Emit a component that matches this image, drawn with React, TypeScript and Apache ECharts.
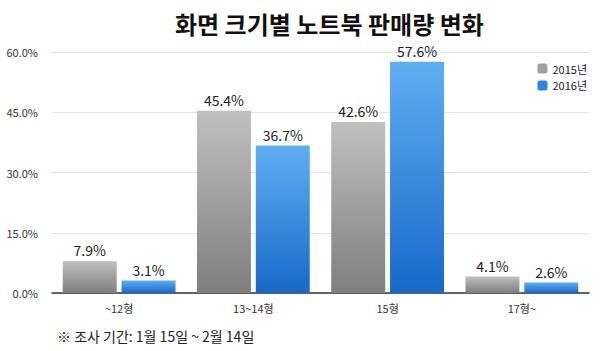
import React, { useEffect, useRef } from "react";
import * as echarts from "echarts";

const categories = ["~12형", "13~14형", "15형", "17형~"];
const series2015 = [7.9, 45.4, 42.6, 4.1];
const series2016 = [3.1, 36.7, 57.6, 2.6];
const seriesNames = ["2015년", "2016년"];
const yTicks = [0, 15, 30, 45, 60];

const FONT = "'Noto Sans CJK KR', 'Noto Sans', sans-serif";

export default function App() {
  const ref = useRef<HTMLDivElement>(null);
  useEffect(() => {
    if (!ref.current) return;
    const chart = echarts.init(ref.current, null, { renderer: "svg" });
    const grayGrad = new echarts.graphic.LinearGradient(0, 0, 0, 1, [
      { offset: 0, color: "#c0c0c0" },
      { offset: 1, color: "#7e7e7e" },
    ]);
    const blueGrad = new echarts.graphic.LinearGradient(0, 0, 0, 1, [
      { offset: 0, color: "#5eaef2" },
      { offset: 1, color: "#1769c9" },
    ]);
    const label = {
      show: true,
      position: "top" as const,
      formatter: (p: any) => p.value.toFixed(1) + "%",
      fontSize: 14,
      color: "#222",
      fontFamily: FONT,
      distance: 4,
    };
    chart.setOption({
      animation: false,
      textStyle: { fontFamily: FONT },
      title: {
        text: "화면 크기별 노트북 판매량 변화",
        left: 170,
        top: 6,
        textStyle: { fontSize: 24, fontWeight: "bold", color: "#111", fontFamily: FONT },
      },
      legend: {
        orient: "vertical",
        right: 8,
        top: 58,
        itemWidth: 10,
        itemHeight: 10,
        itemGap: 6,
        textStyle: { fontSize: 11, color: "#222", fontFamily: FONT },
        data: [
          { name: seriesNames[0], itemStyle: { color: "#a0a0a0" } },
          { name: seriesNames[1], itemStyle: { color: "#2a86e0" } },
        ],
      },
      graphic: [
        {
          type: "text",
          left: 57,
          top: 329,
          style: {
            text: "※ 조사 기간: 1월 15일 ~ 2월 14일",
            fontSize: 14,
            fill: "#222",
            fontFamily: FONT,
          },
        },
      ],
      grid: { left: 52, right: 11, top: 52, bottom: 58, containLabel: false },
      xAxis: {
        type: "category",
        data: categories,
        axisLine: { lineStyle: { color: "#333", width: 1.5 } },
        axisTick: { show: false },
        axisLabel: { fontSize: 11, color: "#333", margin: 9, fontFamily: FONT },
      },
      yAxis: {
        type: "value",
        min: yTicks[0],
        max: yTicks[yTicks.length - 1],
        interval: 15,
        axisLine: { show: false },
        axisTick: { show: false },
        splitLine: { lineStyle: { color: "#e4e4e4" } },
        axisLabel: {
          fontSize: 11,
          color: "#333",
          margin: 14,
          formatter: (v: number) => v.toFixed(1) + "%",
          fontFamily: FONT,
        },
      },
      series: [
        {
          name: seriesNames[0],
          type: "bar",
          data: series2015,
          barGap: "9%",
          barCategoryGap: "16%",
          itemStyle: { color: grayGrad },
          label,
        },
        {
          name: seriesNames[1],
          type: "bar",
          data: series2016,
          itemStyle: { color: blueGrad },
          label,
        },
      ],
    });
    return () => chart.dispose();
  }, []);
  return <div ref={ref} style={{ width: 600, height: 351, position: "absolute", left: 0, top: 0 }} />;
}
